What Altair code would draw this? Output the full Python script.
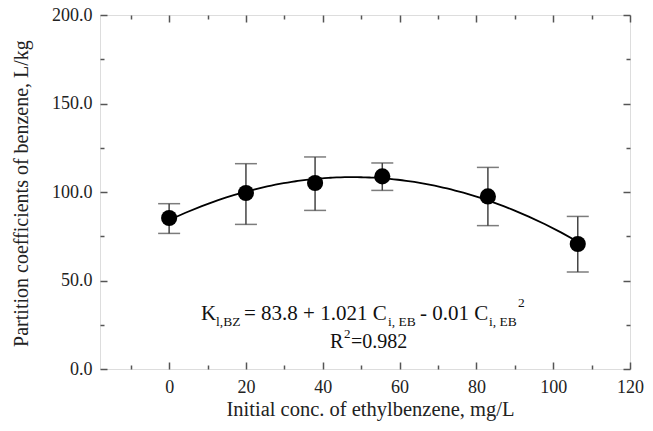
import altair as alt
import pandas as pd

# ---- data ----
conc = [0, 20, 38, 55.5, 83, 106.4]            # initial conc. of ethylbenzene, mg/L
kd = [85.3, 99.4, 105.1, 108.8, 97.5, 70.6]     # partition coefficient, L/kg
kd_hi = [93.4, 116.0, 119.8, 116.4, 113.9, 86.2]
kd_lo = [76.6, 81.7, 89.6, 100.9, 81.0, 54.8]

x_major = [0, 20, 40, 60, 80, 100, 120]
x_minor = [-10, 10, 30, 50, 70, 90, 110]
y_major = [0, 50, 100, 150, 200]
y_minor = [25, 75, 125, 175]

x_title = "Initial conc. of ethylbenzene, mg/L"
y_title = "Partition coefficients of benzene, L/kg"

df = pd.DataFrame({"x": conc, "y": kd, "hi": kd_hi, "lo": kd_lo})

FONT = "Liberation Serif, Times New Roman, serif"
FRAME = "#555555"
W, H = 530, 354

xs = alt.Scale(domain=[-18, 120], nice=False, zero=False)
ys = alt.Scale(domain=[0, 200], nice=False, zero=False)


def ax(orient, values, dash, labels=False, title=None, fmt=None, **kw):
    args = dict(orient=orient, values=values, ticks=False, domain=False,
                grid=True, gridDash=dash, gridColor=FRAME, gridWidth=1.5,
                gridOpacity=1, labels=labels, title=title)
    if fmt:
        args["format"] = fmt
    args.update(kw)
    return alt.Axis(**args)


lab = dict(labelFont=FONT, labelFontSize=18, labelColor="#222222",
           titleFont=FONT, titleFontWeight="normal", titleColor="#222222",
           labelFlush=False, labelOverlap=False)

# curve (quadratic regression of the data) -- top/right minor tick axes
curve = alt.Chart(df).transform_regression(
    "x", "y", method="poly", order=2
).mark_line(color="black", strokeWidth=1.8).encode(
    x=alt.X("x:Q", scale=xs, axis=ax("top", x_minor, [4, 2000])),
    y=alt.Y("y:Q", scale=ys, axis=ax("right", y_minor, [4, 2000])),
)

# error bar stems -- top/right major
stems = alt.Chart(df).mark_rule(color="#444444", strokeWidth=1.5).encode(
    x=alt.X("x:Q", scale=xs, axis=ax("top", x_major, [7, 2000])),
    y=alt.Y("lo:Q", scale=ys, axis=ax("right", y_major, [7, 2000])),
    y2="hi:Q",
)

# caps -- bottom/left minor
cap_hi = alt.Chart(df).mark_tick(color="#444444", thickness=1.5, size=22,
                                 orient="horizontal").encode(
    x=alt.X("x:Q", scale=xs, axis=ax("bottom", x_minor, [4, 2000])),
    y=alt.Y("hi:Q", scale=ys, axis=ax("left", y_minor, [4, 2000])),
)
cap_lo = alt.Chart(df).mark_tick(color="#444444", thickness=1.5, size=22,
                                 orient="horizontal").encode(
    x=alt.X("x:Q", scale=xs, axis=None),
    y=alt.Y("lo:Q", scale=ys, axis=None),
)

# points -- bottom/left major with labels and titles
points = alt.Chart(df).mark_point(filled=True, color="black", opacity=1,
                                  size=260, shape="circle").encode(
    x=alt.X("x:Q", scale=xs,
            axis=ax("bottom", x_major, [7, 2000], labels=True, title=x_title,
                    fmt="d", labelPadding=9, titleFontSize=20.5,
                    titleX=270, titleY=46, titleBaseline="alphabetic", **lab)),
    y=alt.Y("y:Q", scale=ys,
            axis=ax("left", y_major, [7, 2000], labels=True, title=y_title,
                    fmt=".1f", labelPadding=8, titleFontSize=20,
                    titleX=-73, titleY=178, titleBaseline="alphabetic",
                    **lab)),
)

# ---- equation annotation (real text pieces) ----
one = pd.DataFrame({"t": [0]})


def txt(s, x, y, size=21, align="left"):
    return alt.Chart(one).mark_text(
        text=s, font=FONT, fontSize=size, color="#111111", align=align,
        baseline="alphabetic"
    ).encode(x=alt.value(x), y=alt.value(y))


ox, oy = 100, 15
eq_y = 320 - oy
sub_y = eq_y + 6
sup_y = eq_y - 13
r_y = 348 - oy
SUB = 13.5
annot = [
    txt("K", 201 - ox, eq_y),
    txt("l,BZ", 216 - ox, sub_y, SUB),
    txt("= 83.8 + 1.021 C", 244 - ox, eq_y),
    txt("i, EB", 388 - ox, sub_y, SUB),
    txt("- 0.01 C", 420 - ox, eq_y),
    txt("i, EB", 489 - ox, sub_y, SUB),
    txt("2", 518 - ox, sup_y, SUB),
    txt("R", 330 - ox, r_y, 20),
    txt("2", 344 - ox, r_y - 10, 13),
    txt("=0.982", 351 - ox, r_y, 20),
]

chart = alt.layer(curve, stems, cap_hi, cap_lo, points, *annot).resolve_axis(
    x="independent", y="independent"
).properties(
    width=W, height=H,
    padding={"left": 100, "top": 15, "right": 23, "bottom": 62},
    autosize=alt.AutoSizeParams(type="none"),
).configure_view(stroke=FRAME, strokeWidth=1.5).configure(background="white")

chart.save("out.html", embed_options={"renderer": "svg", "actions": False})
